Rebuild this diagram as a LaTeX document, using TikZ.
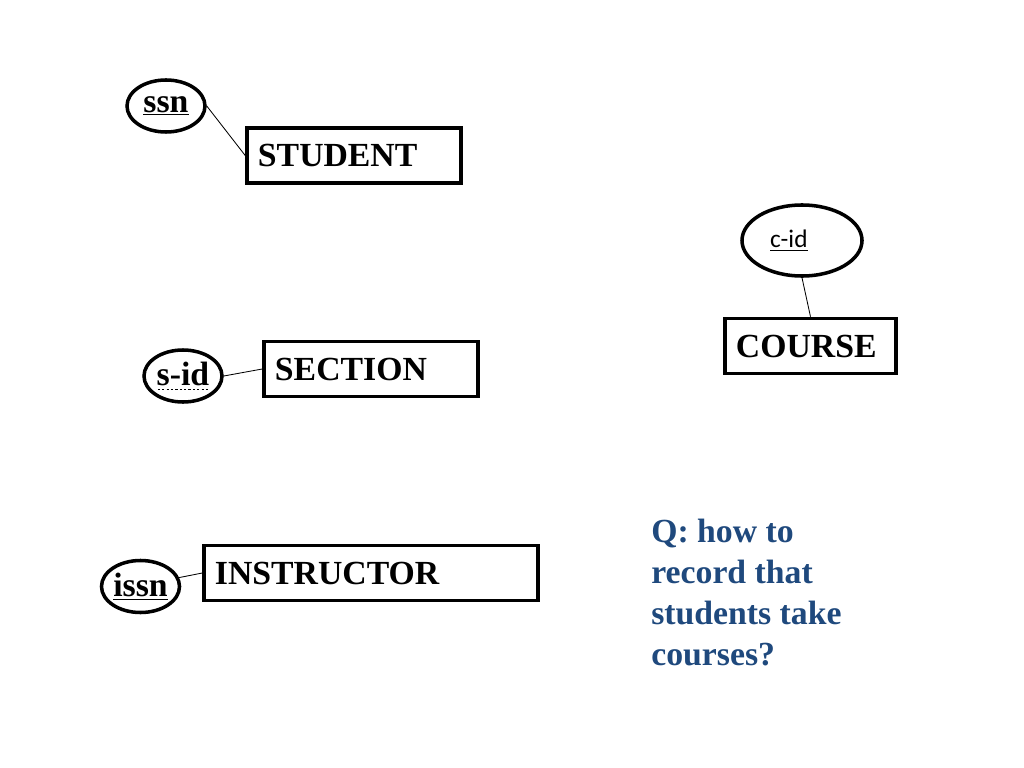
\documentclass[tikz,border=0pt]{standalone}
\usepackage{fontspec}
\usepackage{tikz}
\usepackage{xcolor}
\usetikzlibrary{shapes, positioning}
\setmainfont{Liberation Serif}
\newfontfamily\calib{Carlito}
\definecolor{qblue}{RGB}{31,73,125}
% dashed underline for the partial key
\newcommand{\dashunder}[1]{\setbox0\hbox{#1}\rlap{\raisebox{-3.5pt}{\hbox to \wd0{\xleaders\hbox to 3pt{\hss\rule{1.6pt}{0.6pt}\hss}\hfill}}}\box0}

\begin{document}
\begin{tikzpicture}[x=0.025cm, y=-0.025cm,
        entity/.style={rectangle, draw, line width=2.5pt, minimum height=1.375cm, inner xsep=0.275cm, align=left, font=\fontsize{24}{28}\selectfont\bfseries},
        attr/.style={ellipse, draw, line width=2.5pt, inner sep=0pt, minimum width=1.95cm, minimum height=1.3cm, font=\fontsize{24}{28}\selectfont\bfseries}]
        \useasboundingbox (0,0) rectangle (1024,768);

        \node[entity, text width=4.8cm] (student) at (354,155.5) {STUDENT};
        \node[entity, text width=3.725cm] (course) at (810.5,346) {COURSE};
        \node[entity, text width=4.8cm] (section) at (371,369) {SECTION};
        \node[entity, text width=7.8cm] (instructor) at (371,573) {INSTRUCTOR};

        \node[attr] (ssn) at (166,106) {\underline{ssn}};
        \node[attr, minimum width=3cm, minimum height=1.775cm, text width=1.6cm, align=left, font=\fontsize{18}{20}\selectfont\calib] (cid) at (802,240.5) {\underline{c-id}};
        \node[attr] (sid) at (183,376) {\dashunder{s-id}};
        \node[attr] (issn) at (140.5,586.5) {\underline{issn}};

        \draw[line width=0.6pt] (ssn.east) to (student.west)
            (cid.south) to (course.north)
            (sid.east) to (section.west)
            (issn.13) to (instructor.west);

        \node[anchor=north west, inner sep=0pt, align=left, text=qblue, font=\fontsize{24}{29.2}\selectfont\bfseries] (question) at (651,519) {Q: how to\\record that\\students take\\courses?};
    \end{tikzpicture}
\end{document}
